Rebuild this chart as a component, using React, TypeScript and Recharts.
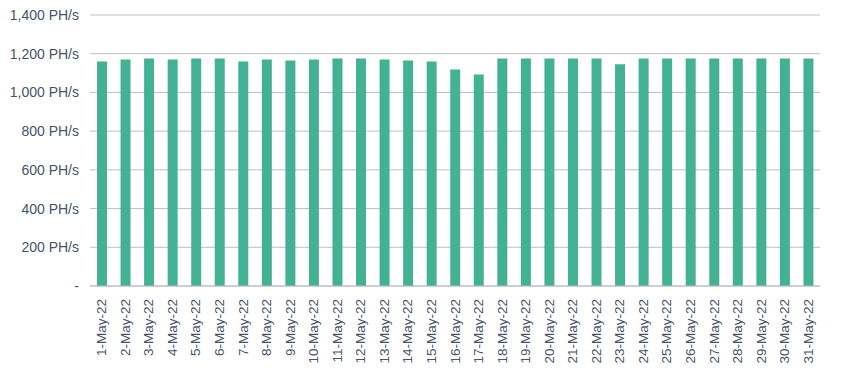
import { BarChart, Bar, XAxis, YAxis, CartesianGrid } from "recharts";

const days = [
  "1-May-22", "2-May-22", "3-May-22", "4-May-22", "5-May-22", "6-May-22", "7-May-22",
  "8-May-22", "9-May-22", "10-May-22", "11-May-22", "12-May-22", "13-May-22", "14-May-22",
  "15-May-22", "16-May-22", "17-May-22", "18-May-22", "19-May-22", "20-May-22", "21-May-22",
  "22-May-22", "23-May-22", "24-May-22", "25-May-22", "26-May-22", "27-May-22", "28-May-22",
  "29-May-22", "30-May-22", "31-May-22",
];

const hashrate = [
  1160, 1170, 1175, 1170, 1175, 1175, 1160, 1170, 1165, 1170, 1175, 1175, 1170, 1165,
  1160, 1119, 1093, 1175, 1175, 1175, 1175, 1175, 1145, 1175, 1175, 1175, 1175, 1175,
  1175, 1175, 1175,
];

const yTicks = [0, 200, 400, 600, 800, 1000, 1200, 1400];

const chartData = days.map((name, i) => ({ name, value: hashrate[i] }));

const textColor = "#44546A";

const formatHash = (v: number) =>
  v === 0 ? "-" : `${new Intl.NumberFormat("en-US").format(v)} PH/s`;

function XTick({ x, y, payload }: any) {
  return (
    <text
      x={x}
      y={y}
      transform={`rotate(-90, ${x}, ${y})`}
      textAnchor="end"
      dominantBaseline="central"
      fill={textColor}
      fontSize={13.5}
    >
      {payload.value}
    </text>
  );
}

export default function App() {
  return (
    <div style={{ position: "absolute", left: 0, top: 0, background: "#fff" }}>
      <BarChart
        width={845}
        height={380}
        data={chartData}
        margin={{ top: 15, right: 25, bottom: 0, left: 0 }}
        style={{ fontFamily: "Liberation Sans, Arial, sans-serif" }}
      >
        <CartesianGrid vertical={false} stroke="#BFBFBF" />
        <XAxis
          dataKey="name"
          interval={0}
          height={94}
          tickLine={false}
          axisLine={{ stroke: "#BFBFBF" }}
          tick={<XTick />}
          tickMargin={7}
        />
        <YAxis
          width={90}
          domain={[0, 1400]}
          ticks={yTicks}
          tickFormatter={formatHash}
          tickLine={false}
          axisLine={false}
          tick={{ fill: textColor, fontSize: 14 }}
          tickMargin={5}
        />
        <Bar dataKey="value" fill="#43B194" barSize={10} isAnimationActive={false} />
      </BarChart>
    </div>
  );
}
